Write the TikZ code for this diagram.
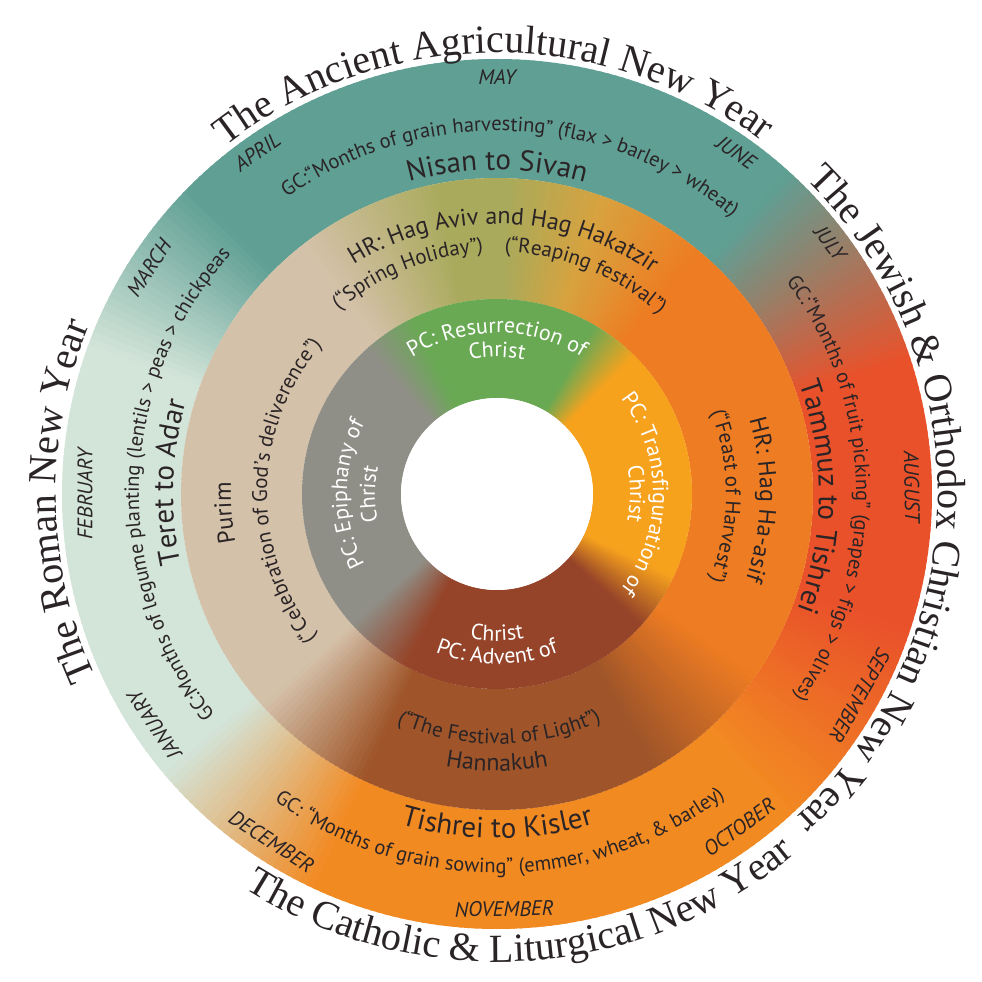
\documentclass[tikz,border=0pt]{standalone}
\usepackage{fontspec}
\setmainfont{Liberation Serif}
\setsansfont{PT Sans}
\usetikzlibrary{decorations.text}
\definecolor{txt}{HTML}{2A2426}
\definecolor{tealO}{HTML}{5F9F94}
\definecolor{mintO}{HTML}{D3E4D9}
\definecolor{orangeO}{HTML}{F28A22}
\definecolor{redO}{HTML}{E9512A}
\definecolor{brownM}{HTML}{9F5529}
\definecolor{orangeM}{HTML}{EE7C22}
\definecolor{goldM}{HTML}{D8A23E}
\definecolor{oliveM}{HTML}{A9AA5B}
\definecolor{tanM}{HTML}{D4C1A9}
\definecolor{brownI}{HTML}{954429}
\definecolor{orangeI}{HTML}{F7A21D}
\definecolor{greenI}{HTML}{69A954}
\definecolor{grayI}{HTML}{908F87}
% angular gradient segment of an annulus: r1 r2 a1 a2 c1 c2
\newcommand\gseg[6]{%
  \pgfmathtruncatemacro\nn{max(1,round(abs((#4)-(#3))))}%
  \foreach \i in {1,...,\nn}{%
    \pgfmathsetmacro\aa{#3+((#4)-(#3))*(\i-1)/\nn}%
    \pgfmathsetmacro\bb{#3+((#4)-(#3))*\i/\nn+0.4}%
    \pgfmathsetmacro\pp{100*(\i-0.5)/\nn}%
    \fill[fill={#6!\pp!#5}] (\aa:#1) arc[start angle=\aa,end angle=\bb,radius=#1]
      -- (\bb:#2) arc[start angle=\bb,end angle=\aa,radius=#2] -- cycle;
  }}
% text along an arc, clockwise (letter tops outward)
\newcommand\cwtext[6][txt]{%
  \pgfmathsetmacro\tsA{#3+#4}\pgfmathsetmacro\tsB{#3-#4}%
  \path[decorate,decoration={text along path,text align=center,text color=#1,text={|#5|#6}}]
    (\tsA:#2pt) arc[start angle=\tsA,end angle=\tsB,radius=#2pt];}
% text along an arc, counter-clockwise (letter tops inward)
\newcommand\ccwtext[6][txt]{%
  \pgfmathsetmacro\tsA{#3-#4}\pgfmathsetmacro\tsB{#3+#4}%
  \path[decorate,decoration={text along path,text align=center,text color=#1,text={|#5|#6}}]
    (\tsA:#2pt) arc[start angle=\tsA,end angle=\tsB,radius=#2pt];}
\newcommand\fGC{\sffamily\fontsize{20.5}{22}\selectfont}
\newcommand\fBig{\sffamily\fontsize{29}{31}\selectfont}
\newcommand\fHR{\sffamily\fontsize{24}{26}\selectfont}
\newcommand\fPar{\sffamily\fontsize{21}{23}\selectfont}
\newcommand\fPC{\sffamily\fontsize{22}{24}\selectfont}
\newcommand\fTitle{\rmfamily\fontsize{40}{44}\selectfont}
\tikzset{mon/.style={font=\sffamily\itshape\fontsize{21}{23}\selectfont,text=txt,inner sep=0pt}}
\begin{document}
\begin{tikzpicture}
\useasboundingbox (-497pt,-488pt) rectangle (485pt,494pt);
\fill[white] (-497pt,-488pt) rectangle (485pt,494pt);
% ---- outer ring (Gregorian months)
\gseg{316pt}{435pt}{-90}{-48}{orangeO}{orangeO}
\gseg{316pt}{435pt}{-48}{-18}{orangeO}{redO}
\gseg{316pt}{435pt}{-18}{18}{redO}{redO}
\gseg{316pt}{435pt}{18}{48}{redO}{tealO}
\gseg{316pt}{435pt}{48}{135}{tealO}{tealO}
\gseg{316pt}{435pt}{135}{160}{tealO}{mintO}
\gseg{316pt}{435pt}{160}{220}{mintO}{mintO}
\gseg{316pt}{435pt}{220}{245}{mintO}{orangeO}
\gseg{316pt}{435pt}{245}{270}{orangeO}{orangeO}
% ---- middle ring (holidays)
\gseg{195pt}{316pt}{-90}{-60}{brownM}{brownM}
\gseg{195pt}{316pt}{-60}{-35}{brownM}{orangeM}
\gseg{195pt}{316pt}{-35}{50}{orangeM}{orangeM}
\gseg{195pt}{316pt}{50}{70}{orangeM}{goldM}
\gseg{195pt}{316pt}{70}{88}{goldM}{oliveM}
\gseg{195pt}{316pt}{88}{100}{oliveM}{oliveM}
\gseg{195pt}{316pt}{100}{128}{oliveM}{tanM}
\gseg{195pt}{316pt}{128}{222}{tanM}{tanM}
\gseg{195pt}{316pt}{222}{245}{tanM}{brownM}
\gseg{195pt}{316pt}{245}{270}{brownM}{brownM}
% ---- inner ring (PC)
\gseg{96pt}{195pt}{-90}{-42}{brownI}{brownI}
\gseg{96pt}{195pt}{-42}{-25}{brownI}{orangeI}
\gseg{96pt}{195pt}{-25}{45}{orangeI}{orangeI}
\gseg{96pt}{195pt}{45}{60}{orangeI}{greenI}
\gseg{96pt}{195pt}{60}{115}{greenI}{greenI}
\gseg{96pt}{195pt}{115}{132}{greenI}{grayI}
\gseg{96pt}{195pt}{132}{222}{grayI}{grayI}
\gseg{96pt}{195pt}{222}{242}{grayI}{brownI}
\gseg{96pt}{195pt}{242}{270}{brownI}{brownI}
\fill[white] (0,0) circle (96pt);
% ---- titles
\cwtext{441}{90.5}{60}{\fTitle}{The Ancient Agricultural New Year}
\cwtext{441}{-1}{70}{\fTitle}{The Jewish {\&} Orthodox Christian New Year}
\cwtext{441}{181}{50}{\fTitle}{The Roman New Year}
\ccwtext{468}{-86.5}{60}{\fTitle}{The Catholic {\&} Liturgical New Year}
% ---- months
\node[mon,rotate=0]    (may) at (90:417pt)  {MAY};
\node[mon,rotate=-35]  (jun) at (55:417pt)  {JUNE};
\node[mon,rotate=-53]  (jul) at (37:417pt)  {JULY};
\node[mon,rotate=-89]  (aug) at (1:415pt)   {AUGUST};
\node[mon,rotate=-119] (sep) at (-29:415pt) {SEPTEMBER};
\node[mon,rotate=36]   (oct) at (-54:412pt) {OCTOBER};
\node[mon,rotate=1]    (nov) at (-89:415pt) {NOVEMBER};
\node[mon,rotate=-33]  (dec) at (-123:414pt) {DECEMBER};
\node[mon,rotate=124]  (jan) at (214:413pt) {JANUARY};
\node[mon,rotate=90]   (feb) at (180:412pt) {FEBRUARY};
\node[mon,rotate=57]   (mar) at (147:415pt) {MARCH};
\node[mon,rotate=35]   (apr) at (125:418pt) {APRIL};
% ---- outer ring texts
\cwtext{363}{87.5}{65}{\fGC}{GC:“Months of grain harvesting” (flax > barley > wheat)}
\cwtext{324}{90}{40}{\fBig}{Nisan to Sivan}
\cwtext{358}{178}{65}{\fGC}{GC:Months of legume planting (lentils > peas > chickpeas}
\cwtext{324}{178}{40}{\fBig}{Teret to Adar}
\cwtext{359}{1}{65}{\fGC}{GC:“Months of fruit picking” (grapes > figs > olives)}
\cwtext{322}{-0.5}{45}{\fBig}{Tammuz to Tishrei}
\ccwtext{379}{-89.5}{65}{\fGC}{GC: “Months of grain sowing” (emmer, wheat, {\&} barley)}
\ccwtext{344}{-90}{40}{\fBig}{Tishrei to Kisler}
% ---- middle ring texts
\cwtext{270}{88.5}{60}{\fHR}{HR: Hag Aviv and Hag Hakatzir}
\cwtext{242}{112}{40}{\fPar}{(“Spring Holiday”)}
\cwtext{242}{68}{40}{\fPar}{(“Reaping festival”)}
\cwtext{266}{184}{40}{\fHR}{Purim}
\cwtext{230}{179}{60}{\fPar}{(“Celebration of God’s deliverence”)}
\cwtext{263}{-1.3}{50}{\fHR}{HR: Hag Ha-asif}
\cwtext{229}{-0.5}{50}{\fPar}{(“Feast of Harvest”)}
\ccwtext{250}{-89.5}{60}{\fPar}{(“The Festival of Light”)}
\ccwtext{277}{-90}{40}{\fHR}{Hannakuh}
% ---- inner ring texts
\cwtext[white]{161}{90}{60}{\fPC}{PC: Resurrection of}
\cwtext[white]{137}{90}{40}{\fPC}{Christ}
\cwtext[white]{150}{180}{60}{\fPC}{PC: Epiphany of}
\cwtext[white]{122}{180}{40}{\fPC}{Christ}
\cwtext[white]{156}{0}{70}{\fPC}{PC: Transfiguration of}
\cwtext[white]{133}{0}{40}{\fPC}{Christ}
\ccwtext[white]{147}{-90}{40}{\fPC}{Christ}
\ccwtext[white]{170}{-90}{60}{\fPC}{PC: Advent of}
\end{tikzpicture}
\end{document}
